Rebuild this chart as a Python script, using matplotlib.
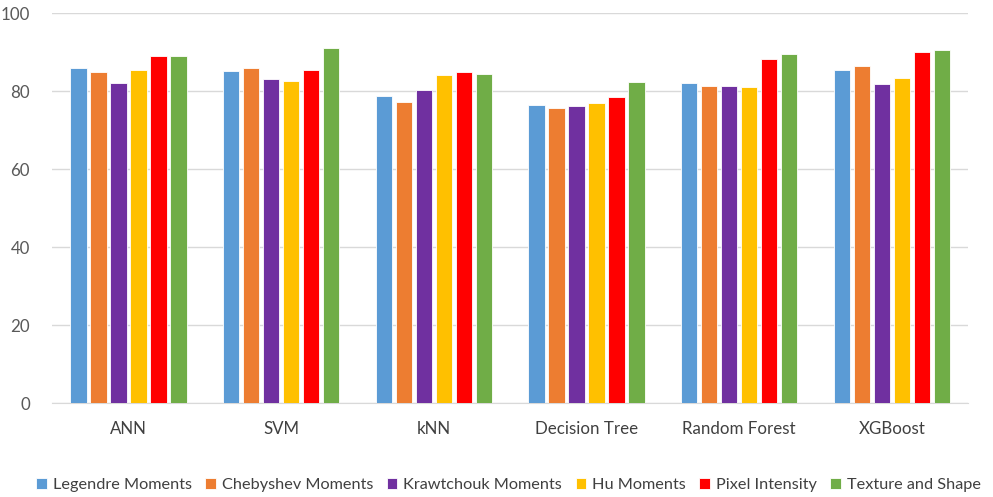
import numpy as np
import matplotlib
matplotlib.use("Agg")
import matplotlib.pyplot as plt

plt.rcParams['font.family'] = ['Lato', 'DejaVu Sans']

categories = ["ANN", "SVM", "kNN", "Decision Tree", "Random Forest", "XGBoost"]
series_names = ["Legendre Moments", "Chebyshev Moments", "Krawtchouk Moments",
                "Hu Moments", "Pixel Intensity", "Texture and Shape"]
legendre = [86.0, 85.3, 78.7, 76.4, 82.1, 85.5]
chebyshev = [85.0, 86.0, 77.3, 75.7, 81.4, 86.4]
krawtchouk = [82.1, 83.3, 80.3, 76.2, 81.4, 81.9]
hu = [85.5, 82.7, 84.2, 77.0, 81.0, 83.5]
pixel = [89.1, 85.5, 85.1, 78.5, 88.2, 90.2]
texture = [89.2, 91.1, 84.5, 82.5, 89.5, 90.6]
series = [legendre, chebyshev, krawtchouk, hu, pixel, texture]
colors = ["#5b9bd5", "#ed7d31", "#7030a0", "#ffc000", "#ff0000", "#70ad47"]

fig = plt.figure(figsize=(9.93, 4.97), dpi=100)
ax = fig.add_axes([0.0524, 0.1885, 0.9226, 0.7845])

x = np.arange(len(categories))
pitch = 0.131
width = 0.108
for i, (vals, name, c) in enumerate(zip(series, series_names, colors)):
    ax.bar(x + (i - 2.5) * pitch, vals, width, color=c, label=name,
           edgecolor="white", linewidth=0.6, zorder=3)

ax.set_xlim(-0.5, len(categories) - 0.5)
ax.set_ylim(0, 100)
ax.set_yticks(np.arange(0, 101, 20))
ax.set_xticks(x)
ax.set_xticklabels(categories)
ax.grid(axis="y", color="#d9d9d9", linewidth=1, zorder=0)
for s in ["top", "right", "left"]:
    ax.spines[s].set_visible(False)
ax.spines["bottom"].set_color("#d9d9d9")
ax.tick_params(axis="x", length=0, labelsize=12.2, colors="#404040", pad=13)
ax.tick_params(axis="y", length=0, labelsize=12.2, colors="#595959", pad=16)

leg = fig.legend(loc="center", bbox_to_anchor=(0.512, 0.024), ncol=6, frameon=False,
                 fontsize=11.7, handlelength=0.65, handleheight=0.65, handletextpad=0.35,
                 columnspacing=0.85)
for t in leg.get_texts():
    t.set_color("#404040")

fig.savefig("out.png", dpi=100)
